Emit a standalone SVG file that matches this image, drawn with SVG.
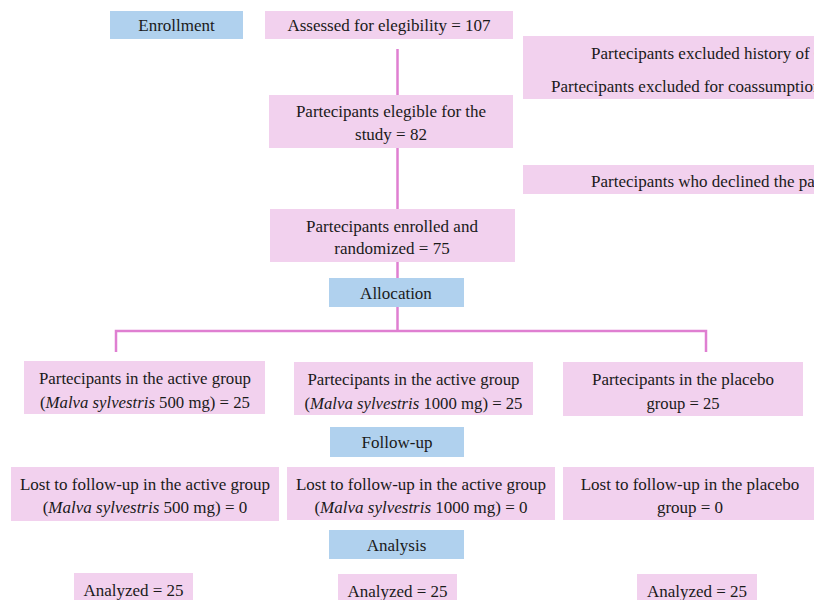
<svg xmlns="http://www.w3.org/2000/svg" width="814" height="600" viewBox="0 0 814 600">
<style>
.p{fill:#f2d1ee}
.b{fill:#b0d1ee}
.c{stroke:#df7fd1;stroke-width:2.5;fill:none}
</style>
<rect width="814" height="600" fill="#ffffff"/>
<g id="connectors">
<line class="c" x1="397.5" y1="49" x2="397.5" y2="331"/>
<polyline class="c" points="116,352 116,331 706,331 706,352"/>
</g>
<g id="enrollment"><rect class="b" x="110" y="11" width="133" height="28"/><text font-family="Liberation Serif" font-size="17" fill="#1a1a1a" text-anchor="middle" x="176.5" y="31">Enrollment</text></g>
<g id="assessed"><rect class="p" x="265" y="11" width="248" height="28"/><text font-family="Liberation Serif" font-size="17" fill="#1a1a1a" text-anchor="middle" x="389" y="31">Assessed for elegibility = 107</text></g>
<g id="excluded"><rect class="p" x="523" y="36" width="291" height="63"/>
<text font-family="Liberation Serif" font-size="17" fill="#1a1a1a" x="591" y="59">Partecipants excluded history of C</text>
<text font-family="Liberation Serif" font-size="17" fill="#1a1a1a" x="551" y="92">Partecipants excluded for coassumption</text></g>
<g id="eligible"><rect class="p" x="269" y="95" width="244" height="53"/>
<text font-family="Liberation Serif" font-size="17" fill="#1a1a1a" text-anchor="middle" x="391" y="117">Partecipants elegible for the</text>
<text font-family="Liberation Serif" font-size="17" fill="#1a1a1a" text-anchor="middle" x="391" y="140">study = 82</text></g>
<g id="declined"><rect class="p" x="523" y="165" width="291" height="29"/>
<text font-family="Liberation Serif" font-size="17" fill="#1a1a1a" x="591" y="187">Partecipants who declined the pa</text></g>
<g id="enrolled"><rect class="p" x="270" y="209" width="245" height="53"/>
<text font-family="Liberation Serif" font-size="17" fill="#1a1a1a" text-anchor="middle" x="392" y="232">Partecipants enrolled and</text>
<text font-family="Liberation Serif" font-size="17" fill="#1a1a1a" text-anchor="middle" x="392" y="254">randomized = 75</text></g>
<g id="allocation"><rect class="b" x="329" y="278" width="135" height="29"/><text font-family="Liberation Serif" font-size="17" fill="#1a1a1a" text-anchor="middle" x="396" y="299">Allocation</text></g>
<g id="group1"><rect class="p" x="24" y="361" width="241" height="53"/>
<text font-family="Liberation Serif" font-size="17" fill="#1a1a1a" text-anchor="middle" x="145" y="384" textLength="212" lengthAdjust="spacingAndGlyphs">Partecipants in the active group</text>
<text font-family="Liberation Serif" font-size="17" fill="#1a1a1a" text-anchor="middle" x="145" y="408" textLength="210" lengthAdjust="spacingAndGlyphs">(<tspan font-style="italic">Malva sylvestris</tspan> 500 mg) = 25</text></g>
<g id="group2"><rect class="p" x="294" y="362" width="239" height="53"/>
<text font-family="Liberation Serif" font-size="17" fill="#1a1a1a" text-anchor="middle" x="413.5" y="385" textLength="212" lengthAdjust="spacingAndGlyphs">Partecipants in the active group</text>
<text font-family="Liberation Serif" font-size="17" fill="#1a1a1a" text-anchor="middle" x="413.5" y="409" textLength="218" lengthAdjust="spacingAndGlyphs">(<tspan font-style="italic">Malva sylvestris</tspan> 1000 mg) = 25</text></g>
<g id="group3"><rect class="p" x="563" y="362" width="240" height="54"/>
<text font-family="Liberation Serif" font-size="17" fill="#1a1a1a" text-anchor="middle" x="683" y="385" textLength="182" lengthAdjust="spacingAndGlyphs">Partecipants in the placebo</text>
<text font-family="Liberation Serif" font-size="17" fill="#1a1a1a" text-anchor="middle" x="683" y="409" textLength="73" lengthAdjust="spacingAndGlyphs">group = 25</text></g>
<g id="followup"><rect class="b" x="330" y="427" width="134" height="30"/><text font-family="Liberation Serif" font-size="17" fill="#1a1a1a" text-anchor="middle" x="397" y="448">Follow-up</text></g>
<g id="lost1"><rect class="p" x="11" y="467" width="268" height="54"/>
<text font-family="Liberation Serif" font-size="17" fill="#1a1a1a" text-anchor="middle" x="145" y="490">Lost to follow-up in the active group</text>
<text font-family="Liberation Serif" font-size="17" fill="#1a1a1a" text-anchor="middle" x="145" y="513">(<tspan font-style="italic">Malva sylvestris</tspan> 500 mg) = 0</text></g>
<g id="lost2"><rect class="p" x="287" y="467" width="268" height="53"/>
<text font-family="Liberation Serif" font-size="17" fill="#1a1a1a" text-anchor="middle" x="421" y="490">Lost to follow-up in the active group</text>
<text font-family="Liberation Serif" font-size="17" fill="#1a1a1a" text-anchor="middle" x="421" y="513">(<tspan font-style="italic">Malva sylvestris</tspan> 1000 mg) = 0</text></g>
<g id="lost3"><rect class="p" x="563" y="467" width="251" height="53"/>
<text font-family="Liberation Serif" font-size="17" fill="#1a1a1a" text-anchor="middle" x="690" y="490">Lost to follow-up in the placebo</text>
<text font-family="Liberation Serif" font-size="17" fill="#1a1a1a" text-anchor="middle" x="690" y="513">group = 0</text></g>
<g id="analysis"><rect class="b" x="329" y="530" width="135" height="29"/><text font-family="Liberation Serif" font-size="17" fill="#1a1a1a" text-anchor="middle" x="396.5" y="551">Analysis</text></g>
<g id="analyzed1"><rect class="p" x="74" y="573" width="119" height="27"/><text font-family="Liberation Serif" font-size="17" fill="#1a1a1a" text-anchor="middle" x="133.5" y="596">Analyzed = 25</text></g>
<g id="analyzed2"><rect class="p" x="338" y="574" width="119" height="26"/><text font-family="Liberation Serif" font-size="17" fill="#1a1a1a" text-anchor="middle" x="397.5" y="597">Analyzed = 25</text></g>
<g id="analyzed3"><rect class="p" x="637" y="574" width="120" height="26"/><text font-family="Liberation Serif" font-size="17" fill="#1a1a1a" text-anchor="middle" x="697" y="597">Analyzed = 25</text></g>
</svg>
